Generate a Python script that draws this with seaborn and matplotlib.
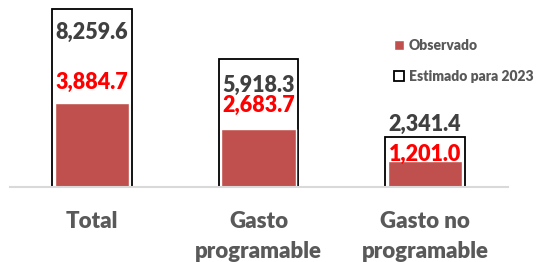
import pandas as pd
import matplotlib.pyplot as plt
import seaborn as sns

# Data
categorias = ['Total', 'Gasto\nprogramable', 'Gasto no\nprogramable']
estimado = [8259.6, 5918.3, 2341.4]
observado = [3884.7, 2683.7, 1201.0]

# label offsets (points) from the top of each bar
off_est = [-17, -19, 9]
off_obs = [15, 17, 5]

df = pd.DataFrame({'cat': categorias, 'est': estimado, 'obs': observado})

sns.set_style('white')
plt.rcParams['font.family'] = ['Lato', 'DejaVu Sans']
plt.rcParams['font.weight'] = 'bold'

fig = plt.figure(figsize=(5.36, 2.62), dpi=100)
ax = fig.add_axes([10 / 536, 75 / 262, 498 / 536, 187 / 262])

sns.barplot(data=df, x='cat', y='est', color='white', edgecolor='black',
            linewidth=1.3, width=0.48, label='Estimado para 2023', ax=ax)
sns.barplot(data=df, x='cat', y='obs', color='#C0504D', saturation=1,
            width=0.445, label='Observado', ax=ax)

for i, (e, o) in enumerate(zip(estimado, observado)):
    ax.annotate(f'{e:,.1f}', xy=(i, e), xytext=(0, off_est[i]),
                textcoords='offset points', ha='center', va='center',
                fontsize=15.5, fontweight='heavy', color='#404040')
    ax.annotate(f'{o:,.1f}', xy=(i, o), xytext=(0, off_obs[i]),
                textcoords='offset points', ha='center', va='center',
                fontsize=15.5, fontweight='heavy', color='#FF0000')

ax.set_xlim(-0.4925, 2.4985)
ax.set_ylim(0, 8680)
ax.set_xlabel('')
ax.set_ylabel('')
ax.set_yticks([])
ax.tick_params(axis='x', length=0, pad=17)
for t in ax.get_xticklabels():
    t.set_fontsize(16)
    t.set_fontweight('heavy')
    t.set_color('#595959')
    t.set_linespacing(1.55)
for s in ['top', 'right', 'left']:
    ax.spines[s].set_visible(False)
ax.spines['bottom'].set_color('#D9D9D9')
ax.spines['bottom'].set_linewidth(1.5)

h, l = ax.get_legend_handles_labels()
if ax.get_legend() is not None:
    ax.get_legend().remove()
order = [l.index('Observado'), l.index('Estimado para 2023')]
fig.legend([h[k] for k in order], [l[k] for k in order],
           loc='upper left', bbox_to_anchor=(394 / 536, 1 - 39 / 262),
           frameon=False, handlelength=0.7, handleheight=0.7,
           handletextpad=0.35, labelspacing=1.3, borderpad=0,
           borderaxespad=0, prop={'size': 10, 'weight': 'heavy'},
           labelcolor='#595959')

plt.savefig('out.png', dpi=100)
plt.close()
